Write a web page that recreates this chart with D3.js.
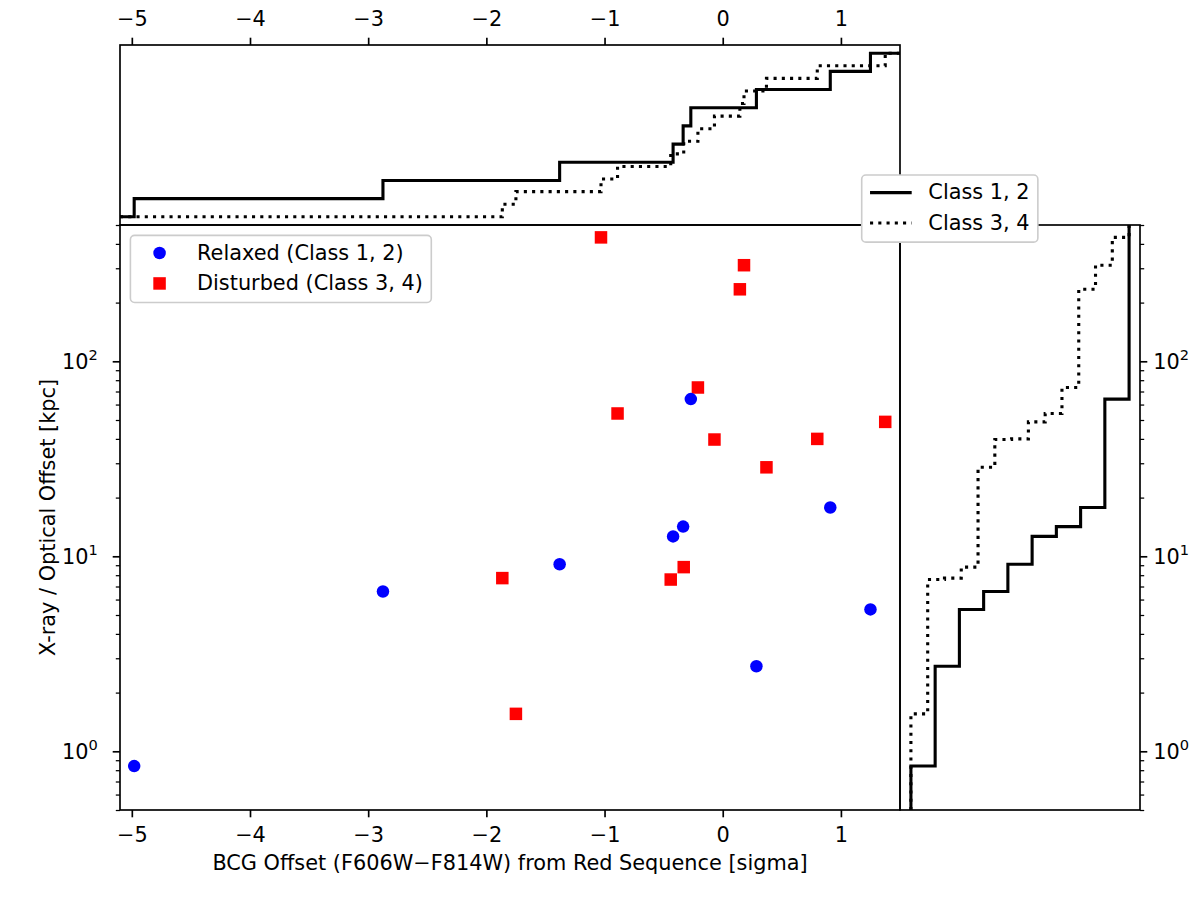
<!DOCTYPE html>
<html><head><meta charset="utf-8">
<script src="https://cdn.jsdelivr.net/npm/d3@7"></script>
<style>
body{margin:0;background:#fff;}
svg{display:block;}
text{font-family:"DejaVu Sans";fill:#000;}
</style>
</head><body>
<svg id="c" width="1200" height="900"></svg>
<script>
// ---------------- data ----------------
const relaxedX = [-4.98, -2.875, -1.38, -0.42, -0.335, -0.27, 0.285, 0.91, 1.25];
const relaxedY = [0.84, 6.6, 9.1, 12.65, 14.2, 64, 2.73, 17.8, 5.34];
const disturbedX = [-1.03, 0.18, 0.145, -0.21, -0.89, -0.07, 0.80, 1.375, 0.37, -0.33, -0.44, -1.865, -1.75];
const disturbedY = [432, 311, 234, 73.4, 54, 39.7, 40.0, 48.9, 28.6, 8.8, 7.6, 7.73, 1.556];
const xTicks = [-5, -4, -3, -2, -1, 0, 1];
const yMajorTicks = [1, 10, 100];
const yMajorExp = ["0", "1", "2"];
const yMinorTicks = [0.5,0.6,0.7,0.8,0.9, 2,3,4,5,6,7,8,9, 20,30,40,50,60,70,80,90, 200,300,400,500];
const scatterLabels = ["Relaxed (Class 1, 2)", "Disturbed (Class 3, 4)"];
const lineLabels = ["Class 1, 2", "Class 3, 4"];
const xLabel = "BCG Offset (F606W\u2212F814W) from Red Sequence [sigma]";
const yLabel = "X-ray / Optical Offset [kpc]";

// ---------------- layout ----------------
const FS = 20.83;
const MAIN = {x0:120, x1:900, y0:225, y1:810};
const TOP = {x0:120, x1:900, y0:45, y1:225};
const RIGHT = {x0:900, x1:1140, y0:225, y1:810};
const TICK = 7.3, MTICK = 4.2, LW_SPINE = 1.67;

const svg = d3.select("#c");
const defs = svg.append("defs");
[["clipMain",MAIN],["clipTop",TOP],["clipRight",RIGHT]].forEach(([id,p])=>{
  defs.append("clipPath").attr("id",id).append("rect")
    .attr("x",p.x0).attr("y",p.y0).attr("width",p.x1-p.x0).attr("height",p.y1-p.y0);
});

const x = d3.scaleLinear().domain([-5.1, 1.5]).range([MAIN.x0, MAIN.x1]);
const y = d3.scaleLog().domain([0.5, 500]).range([MAIN.y1, MAIN.y0]);
const fy = d3.scaleLinear().domain([-0.05, 1.05]).range([TOP.y1, TOP.y0]);
const fx = d3.scaleLinear().domain([-0.05, 1.05]).range([RIGHT.x0, RIGHT.x1]);

// ---------------- main scatter ----------------
const gMain = svg.append("g").attr("clip-path","url(#clipMain)");
const sq = 12.5;
gMain.selectAll("rect.dist").data(d3.zip(disturbedX, disturbedY)).join("rect")
  .attr("class","dist")
  .attr("x", d=>x(d[0])-sq/2).attr("y", d=>y(d[1])-sq/2)
  .attr("width", sq).attr("height", sq).attr("fill","#ff0000");
gMain.selectAll("circle.rel").data(d3.zip(relaxedX, relaxedY)).join("circle")
  .attr("class","rel")
  .attr("cx", d=>x(d[0])).attr("cy", d=>y(d[1])).attr("r", 6.25).attr("fill","#0000ff");

// ---------------- CDF steps ----------------
const solidStyle = s => s.attr("fill","none").attr("stroke","#000").attr("stroke-width",3.1);
const dotStyle = s => s.attr("fill","none").attr("stroke","#000").attr("stroke-width",3.1)
  .attr("stroke-dasharray","3.1,5.15");

function topPts(vals){
  const s = vals.slice().sort(d3.ascending), n = s.length;
  return [[x.domain()[0],0], ...s.map((v,i)=>[v,(i+1)/n]), [x.domain()[1],1]];
}
function rightPts(vals){
  const s = vals.slice().sort(d3.ascending), n = s.length;
  return [[0,y.domain()[0]], ...s.map((v,i)=>[i/n, v]), [1,y.domain()[1]]];
}
const lineTop = d3.line().x(d=>x(d[0])).y(d=>fy(d[1])).curve(d3.curveStepAfter);
const lineRight = d3.line().x(d=>fx(d[0])).y(d=>y(d[1])).curve(d3.curveStepAfter);

const gTop = svg.append("g").attr("clip-path","url(#clipTop)");
gTop.append("path").attr("d", lineTop(topPts(relaxedX))).call(solidStyle);
gTop.append("path").attr("d", lineTop(topPts(disturbedX))).call(dotStyle);

const gRight = svg.append("g").attr("clip-path","url(#clipRight)");
gRight.append("path").attr("d", lineRight(rightPts(relaxedY))).call(solidStyle);
gRight.append("path").attr("d", lineRight(rightPts(disturbedY))).call(dotStyle);

// ---------------- axes ----------------
function styleAxis(g, w){
  g.select(".domain").remove();
  g.selectAll(".tick line").attr("stroke","#000").attr("stroke-width",w);
  g.selectAll("text").style("font-family","DejaVu Sans").style("font-size",FS+"px").attr("fill","#000");
}
// bottom x
const gxb = svg.append("g").attr("transform",`translate(0,${MAIN.y1})`)
  .call(d3.axisBottom(x).tickValues(xTicks).tickSize(TICK).tickFormat(d3.format("d")));
styleAxis(gxb, 1.67);
gxb.selectAll("text").attr("y", 31.7).attr("dy", null);
// top x (top panel)
const gxt = svg.append("g").attr("transform",`translate(0,${TOP.y0})`)
  .call(d3.axisTop(x).tickValues(xTicks).tickSize(TICK).tickFormat(d3.format("d")));
styleAxis(gxt, 1.67);
gxt.selectAll("text").attr("y", -19.5).attr("dy", null);

function supLabels(g){
  g.selectAll(".tick text").each(function(d,i){
    const t = d3.select(this);
    t.text(null).attr("dy", null).attr("y", 7.3);
    t.append("tspan").text("10");
    t.append("tspan").attr("dy", -9.5).style("font-size", (FS*0.7)+"px")
      .text(yMajorExp[yMajorTicks.indexOf(d)]);
  });
}
// left y major + minor
const gyl = svg.append("g").attr("transform",`translate(${MAIN.x0},0)`)
  .call(d3.axisLeft(y).tickValues(yMajorTicks).tickSize(TICK).tickPadding(15));
styleAxis(gyl, 1.67); supLabels(gyl);
const gylm = svg.append("g").attr("transform",`translate(${MAIN.x0},0)`)
  .call(d3.axisLeft(y).tickValues(yMinorTicks).tickSize(MTICK).tickFormat(""));
styleAxis(gylm, 1.25);
// right y (right panel)
const gyr = svg.append("g").attr("transform",`translate(${RIGHT.x1},0)`)
  .call(d3.axisRight(y).tickValues(yMajorTicks).tickSize(TICK).tickPadding(6));
styleAxis(gyr, 1.67); supLabels(gyr);
const gyrm = svg.append("g").attr("transform",`translate(${RIGHT.x1},0)`)
  .call(d3.axisRight(y).tickValues(yMinorTicks).tickSize(MTICK).tickFormat(""));
styleAxis(gyrm, 1.25);

// spines
[MAIN, TOP, RIGHT].forEach(p=>{
  svg.append("rect").attr("x",p.x0).attr("y",p.y0).attr("width",p.x1-p.x0).attr("height",p.y1-p.y0)
    .attr("fill","none").attr("stroke","#000").attr("stroke-width",LW_SPINE);
});

// axis labels
svg.append("text").attr("x",(MAIN.x0+MAIN.x1)/2).attr("y",869.5).attr("text-anchor","middle")
  .style("font-size",FS+"px").text(xLabel);
svg.append("text").attr("transform",`translate(55,${(MAIN.y0+MAIN.y1)/2}) rotate(-90)`)
  .attr("text-anchor","middle").style("font-size",FS+"px").text(yLabel);

// ---------------- legends ----------------
const BP = 0.4*FS, HL = 2.0*FS, HTP = 0.8*FS, LS = 0.5*FS, ROWH = 20;
function legend(x0, y0, labels, drawHandle){
  const g = svg.append("g");
  const rows = labels.map((lab,i)=>{
    const cy = y0 + BP + i*(ROWH+LS) + ROWH/2;
    const t = g.append("text").attr("x", x0+BP+HL+HTP).attr("y", cy+6.0)
      .style("font-size",FS+"px").text(lab);
    drawHandle(g, i, x0+BP, x0+BP+HL, cy-0.7);
    return t.node().getComputedTextLength();
  });
  const w = BP+HL+HTP+d3.max(rows)+BP;
  const h = 2*BP + labels.length*ROWH + (labels.length-1)*LS;
  g.insert("rect",":first-child").attr("x",x0).attr("y",y0).attr("width",w).attr("height",h)
    .attr("rx",4.2).attr("ry",4.2).attr("fill","#fff").attr("fill-opacity",1)
    .attr("stroke","#cccccc").attr("stroke-width",1.6);
}
legend(130.4, 235.4, scatterLabels, (g,i,xa,xb,cy)=>{
  const cx = (xa+xb)/2;
  if(i===0) g.append("circle").attr("cx",cx).attr("cy",cy).attr("r",6.25).attr("fill","#0000ff");
  else g.append("rect").attr("x",cx-sq/2).attr("y",cy-sq/2).attr("width",sq).attr("height",sq).attr("fill","#ff0000");
});
legend(861.7, 175, lineLabels, (g,i,xa,xb,cy)=>{
  const l = g.append("line").attr("x1",xa).attr("x2",xb).attr("y1",cy).attr("y2",cy);
  if(i===0) l.call(solidStyle); else l.call(dotStyle);
});
</script>
</body></html>
